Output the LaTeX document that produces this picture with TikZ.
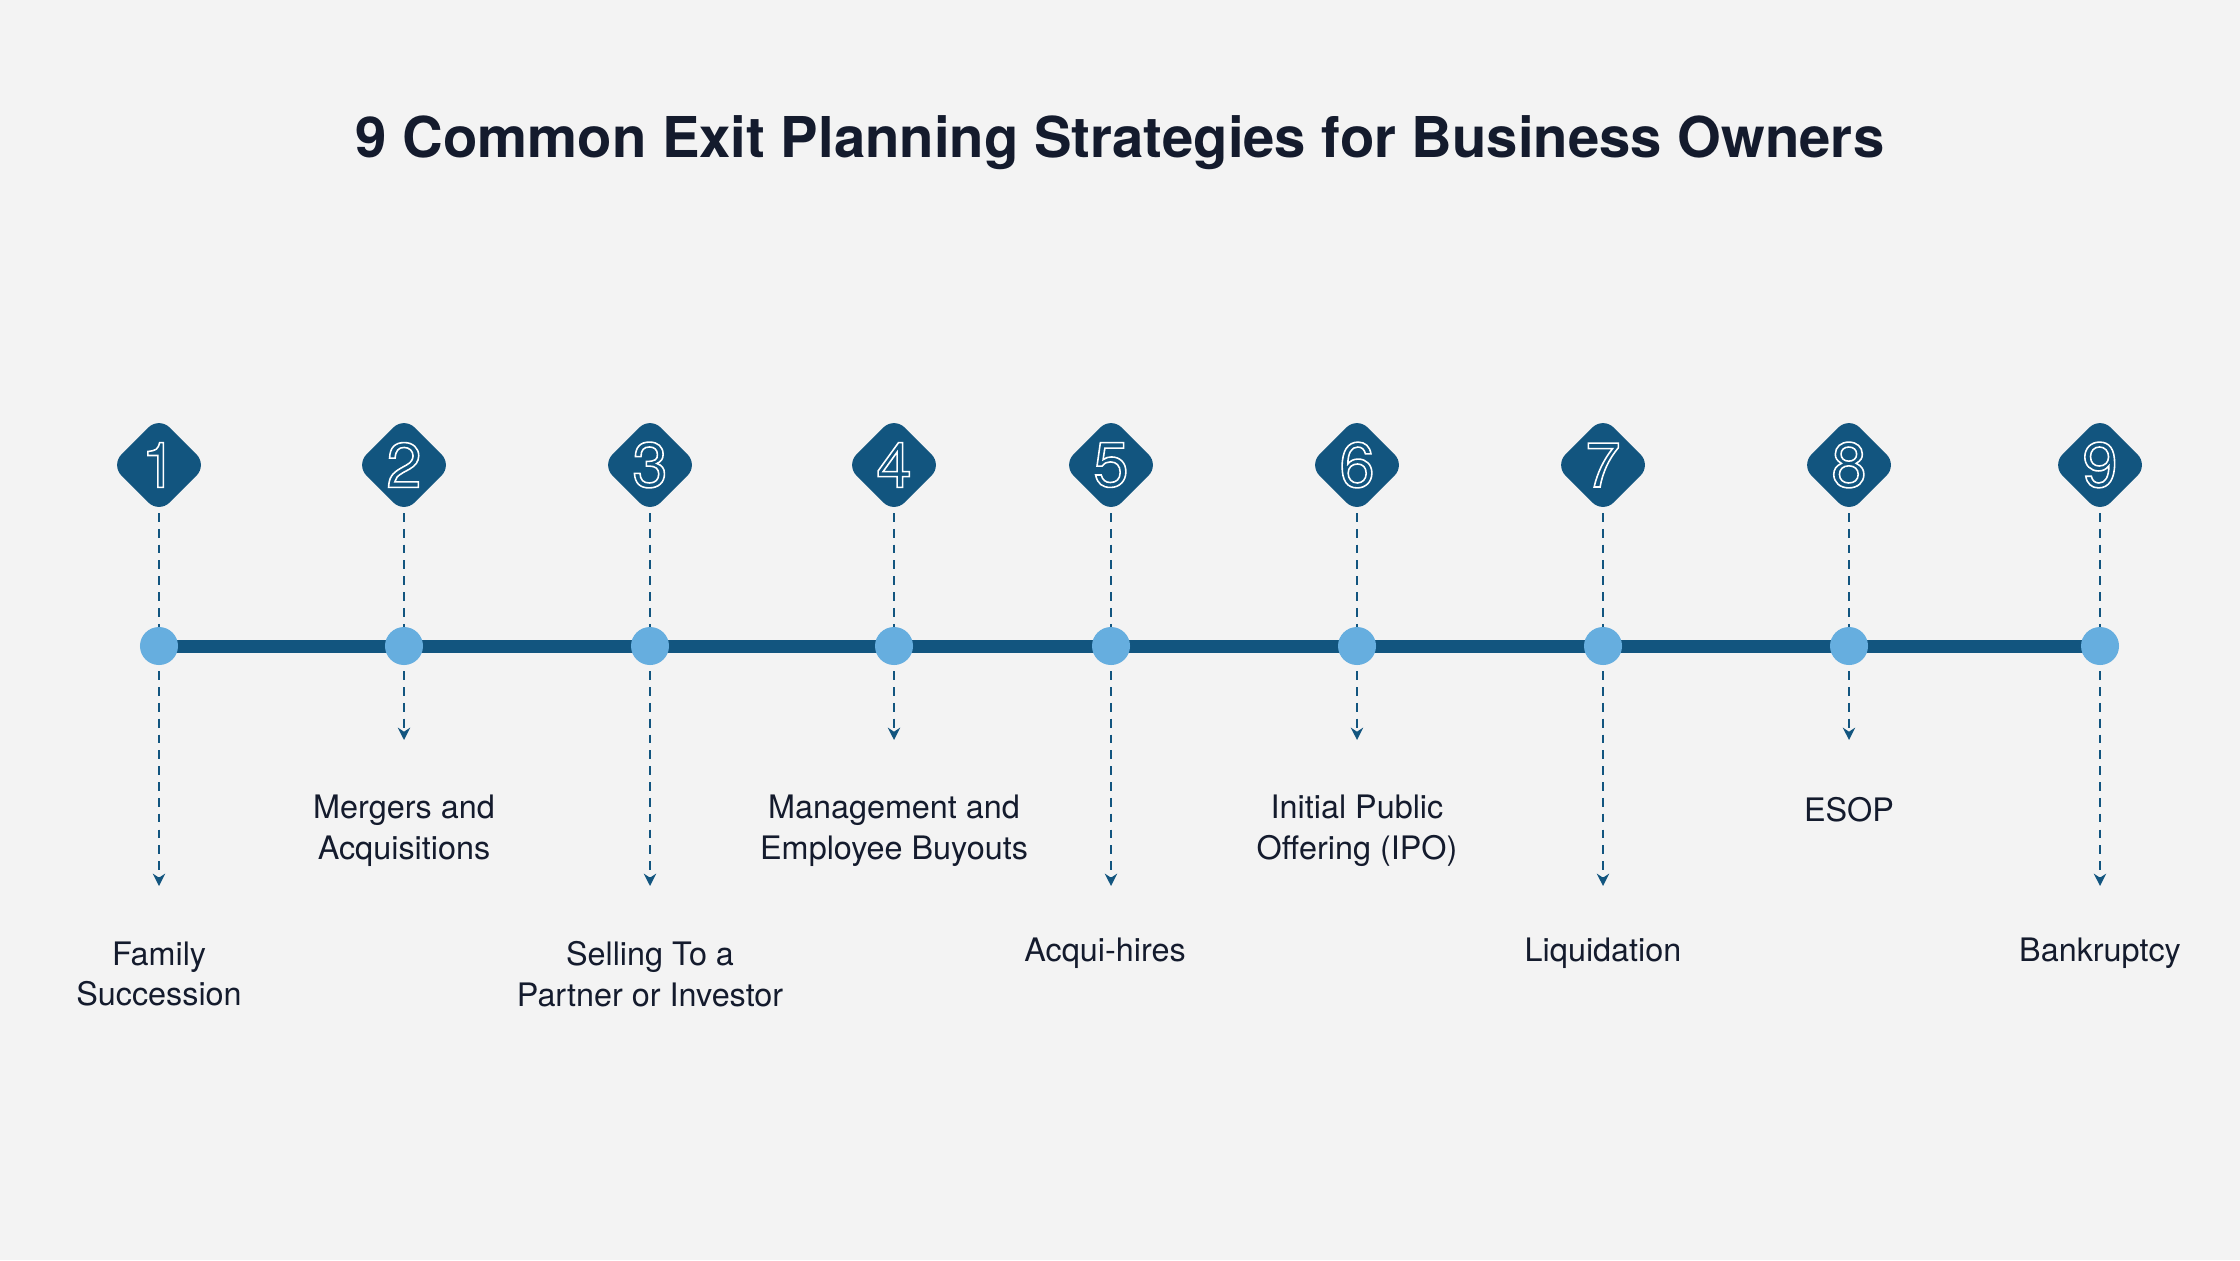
\documentclass[tikz,border=0pt]{standalone}
\usepackage{fontspec}
\setmainfont{TeX Gyre Heros}
\usetikzlibrary{arrows.meta}
\definecolor{bg}{HTML}{F3F3F3}
\definecolor{navy}{HTML}{12557F}
\definecolor{lblue}{HTML}{66AEDF}
\definecolor{ink}{HTML}{141B2D}
\tikzset{
  dia/.style={fill=navy, minimum size=0.68cm, rounded corners=0.15cm, rotate=45, inner sep=0pt},
  num/.style={font=\fontsize{18pt}{18pt}\selectfont, text=white},
  dot/.style={circle, fill=lblue, minimum size=0.38cm, inner sep=0pt},
  conn/.style={navy, line width=0.6pt, dash pattern=on 2.5pt off 2pt, -{Stealth[length=3.5pt,width=3.5pt]}},
  lbl/.style={align=center, text=ink, font=\fontsize{9.2pt}{11.6pt}\selectfont},
}
\newcommand{\outl}[1]{\special{pdf:literal direct 1 Tr 0.45 w 1 1 1 RG}#1\special{pdf:literal direct 0 Tr}}
\begin{document}
\begin{tikzpicture}[x=0.01cm,y=-0.01cm]
\fill[bg] (0,0) rectangle (2240,1260);
\node[text=ink, font=\bfseries\fontsize{16pt}{16pt}\selectfont] (title) at (1120,143) {9 Common Exit Planning Strategies for Business Owners};
\foreach \i/\x/\e in {1/159/886,2/404/740,3/650/886,4/894/740,5/1111/886,6/1357/740,7/1603/886,8/1849/740,9/2100/886}{
  \coordinate (t\i) at (\x,513);
  \coordinate (e\i) at (\x,\e);
  \draw[conn] (t\i) -- (e\i);
}
\draw[navy, line width=3.7pt] (159,646) -- (2100,646);
\foreach \i/\x in {1/159,2/404,3/650,4/894,5/1111,6/1357,7/1603,8/1849,9/2100}{
  \node[dia] (d\i) at (\x,465) {};
  \node[num] (n\i) at (\x,465) {\outl{\i}};
  \node[dot] (c\i) at (\x,646) {};
}
\node[lbl] (l1) at (159,974) {Family\\Succession};
\node[lbl] (l2) at (404,831) {Mergers and\\Acquisitions};
\node[lbl] (l3) at (650,974) {Selling To a\\Partner or Investor};
\node[lbl] (l4) at (894,831) {Management and\\Employee Buyouts};
\node[lbl] (l5) at (1105,953) {Acqui-hires};
\node[lbl] (l6) at (1357,831) {Initial Public\\Offering (IPO)};
\node[lbl] (l7) at (1603,953) {Liquidation};
\node[lbl] (l8) at (1849,810) {ESOP};
\node[lbl] (l9) at (2100,953) {Bankruptcy};
\end{tikzpicture}
\end{document}
